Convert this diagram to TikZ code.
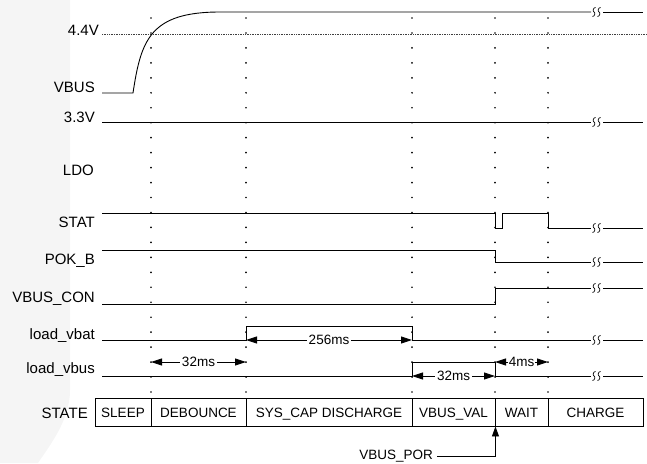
\documentclass[tikz,border=0pt]{standalone}
\usepackage{fontspec}
\setmainfont{Liberation Sans}
\usetikzlibrary{arrows.meta}
\newcommand\brkmark[2]{%
  \draw[line width=0.7pt] (#1+1.6,#2-4.5) .. controls (#1-1.2,#2-4.5) and (#1-1.2,#2-0.4) .. (#1,#2)
    .. controls (#1+1.2,#2+0.4) and (#1+1.2,#2+4.5) .. (#1-1.6,#2+4.5);}
\newcommand\brkpair[1]{\brkmark{594}{#1}\brkmark{599}{#1}}
\begin{document}
\begin{tikzpicture}[x=1pt,y=-1pt,
  lab/.style={anchor=base east, inner sep=0pt, font=\fontsize{15}{18}\selectfont},
  sm/.style={font=\fontsize{13.5}{16}\selectfont},
  mlab/.style={sm, fill=white, inner sep=2pt},
  sig/.style={line width=0.9pt},
  meas/.style={line width=0.9pt, {Triangle[length=11pt,width=7pt]}-{Triangle[length=11pt,width=7pt]}},
  statebox/.style={draw, line width=0.9pt, minimum height=28pt, inner sep=0pt,
    text height=11pt, text depth=0pt, font=\fontsize{13.5}{16}\selectfont},
]
\useasboundingbox (0,0) rectangle (647,463);
\fill[black!4] (0,0) -- (70,0) -- (70,390) .. controls (70,420) and (50,445) .. (38,463) -- (0,463) -- cycle;

% dotted time markers
\foreach \x in {151,246,412,495,548}{
  \foreach \k in {0,...,25}{\fill (\x,{18+14.96*\k}) circle (0.95pt);}}

% labels
\node[lab] (l44) at (99,35) {4.4V};
\node[lab] (lvbus) at (95,92) {VBUS};
\node[lab] (l33) at (95,122) {3.3V};
\node[lab] (lldo) at (94,175.5) {LDO};
\node[lab] (lstat) at (95,227) {STAT};
\node[lab] (lpok) at (95,264) {POK\_B};
\node[lab] (lcon) at (95,302.5) {VBUS\_CON};
\node[lab] (lvbat) at (95,339) {load\_vbat};
\node[lab] (lvbusl) at (95,373.5) {load\_vbus};
\node[lab] (lstate) at (88,418) {STATE};

% 4.4V threshold
\draw[black!75, line width=0.7pt, densely dotted] (102,34) -- (647,34);

% VBUS
\draw[sig] (102,93) -- (133,93) .. controls (141,40) and (150,12) .. (220,12) -- (591,12);
\brkpair{12}
\draw[sig] (603,12) -- (643,12);

% 3.3V
\draw[sig] (102,122) -- (591,122);
\brkpair{122}
\draw[sig] (603,122) -- (643,122);

% STAT
\draw[sig] (102,213) -- (495,213) -- (495,228) -- (502,228) -- (502,213) -- (548,213) -- (548,228) -- (591,228);
\brkpair{228}
\draw[sig] (603,228) -- (643,228);

% POK_B
\draw[sig] (102,250) -- (495,250) -- (495,262) -- (591,262);
\brkpair{262}
\draw[sig] (603,262) -- (643,262);

% VBUS_CON
\draw[sig] (102,304) -- (495,304) -- (495,288) -- (591,288);
\brkpair{288}
\draw[sig] (603,288) -- (643,288);

% load_vbat
\draw[sig] (102,340) -- (246,340) -- (246,326) -- (412,326) -- (412,340) -- (591,340);
\brkpair{340}
\draw[sig] (603,340) -- (643,340);

% load_vbus
\draw[sig] (102,376) -- (412,376) -- (412,362) -- (495,362) -- (495,376) -- (591,376);
\brkpair{376}
\draw[sig] (603,376) -- (643,376);

% measurements
\draw[meas] (151,362) -- node[mlab] (m1) {32ms} (246,362);
\draw[meas] (246,340) -- node[mlab] (m2) {256ms} (412,340);
\draw[meas] (412,376) -- node[mlab] (m3) {32ms} (495,376);
\draw[meas] (495,362) -- node[mlab, inner sep=1pt] (m4) {4ms} (548,362);

% states
\node[statebox, minimum width=56pt] (sleep) at (123,412) {SLEEP};
\node[statebox, minimum width=95pt] (deb) at (198.5,412) {DEBOUNCE};
\node[statebox, minimum width=166pt] (sys) at (329,412) {SYS\_CAP DISCHARGE};
\node[statebox, minimum width=83pt] (vbusval) at (453.5,412) {VBUS\_VAL};
\node[statebox, minimum width=53pt] (wait) at (521.5,412) {WAIT};
\node[statebox, minimum width=95pt] (charge) at (595.5,412) {CHARGE};

% VBUS_POR
\node[sm, anchor=base east, inner sep=0pt] (por) at (433,459.5) {VBUS\_POR};
\draw[line width=0.9pt, -{Triangle[length=10pt,width=7pt]}] ([xshift=4pt]por.east) -| (vbusval.south east);
\end{tikzpicture}
\end{document}
